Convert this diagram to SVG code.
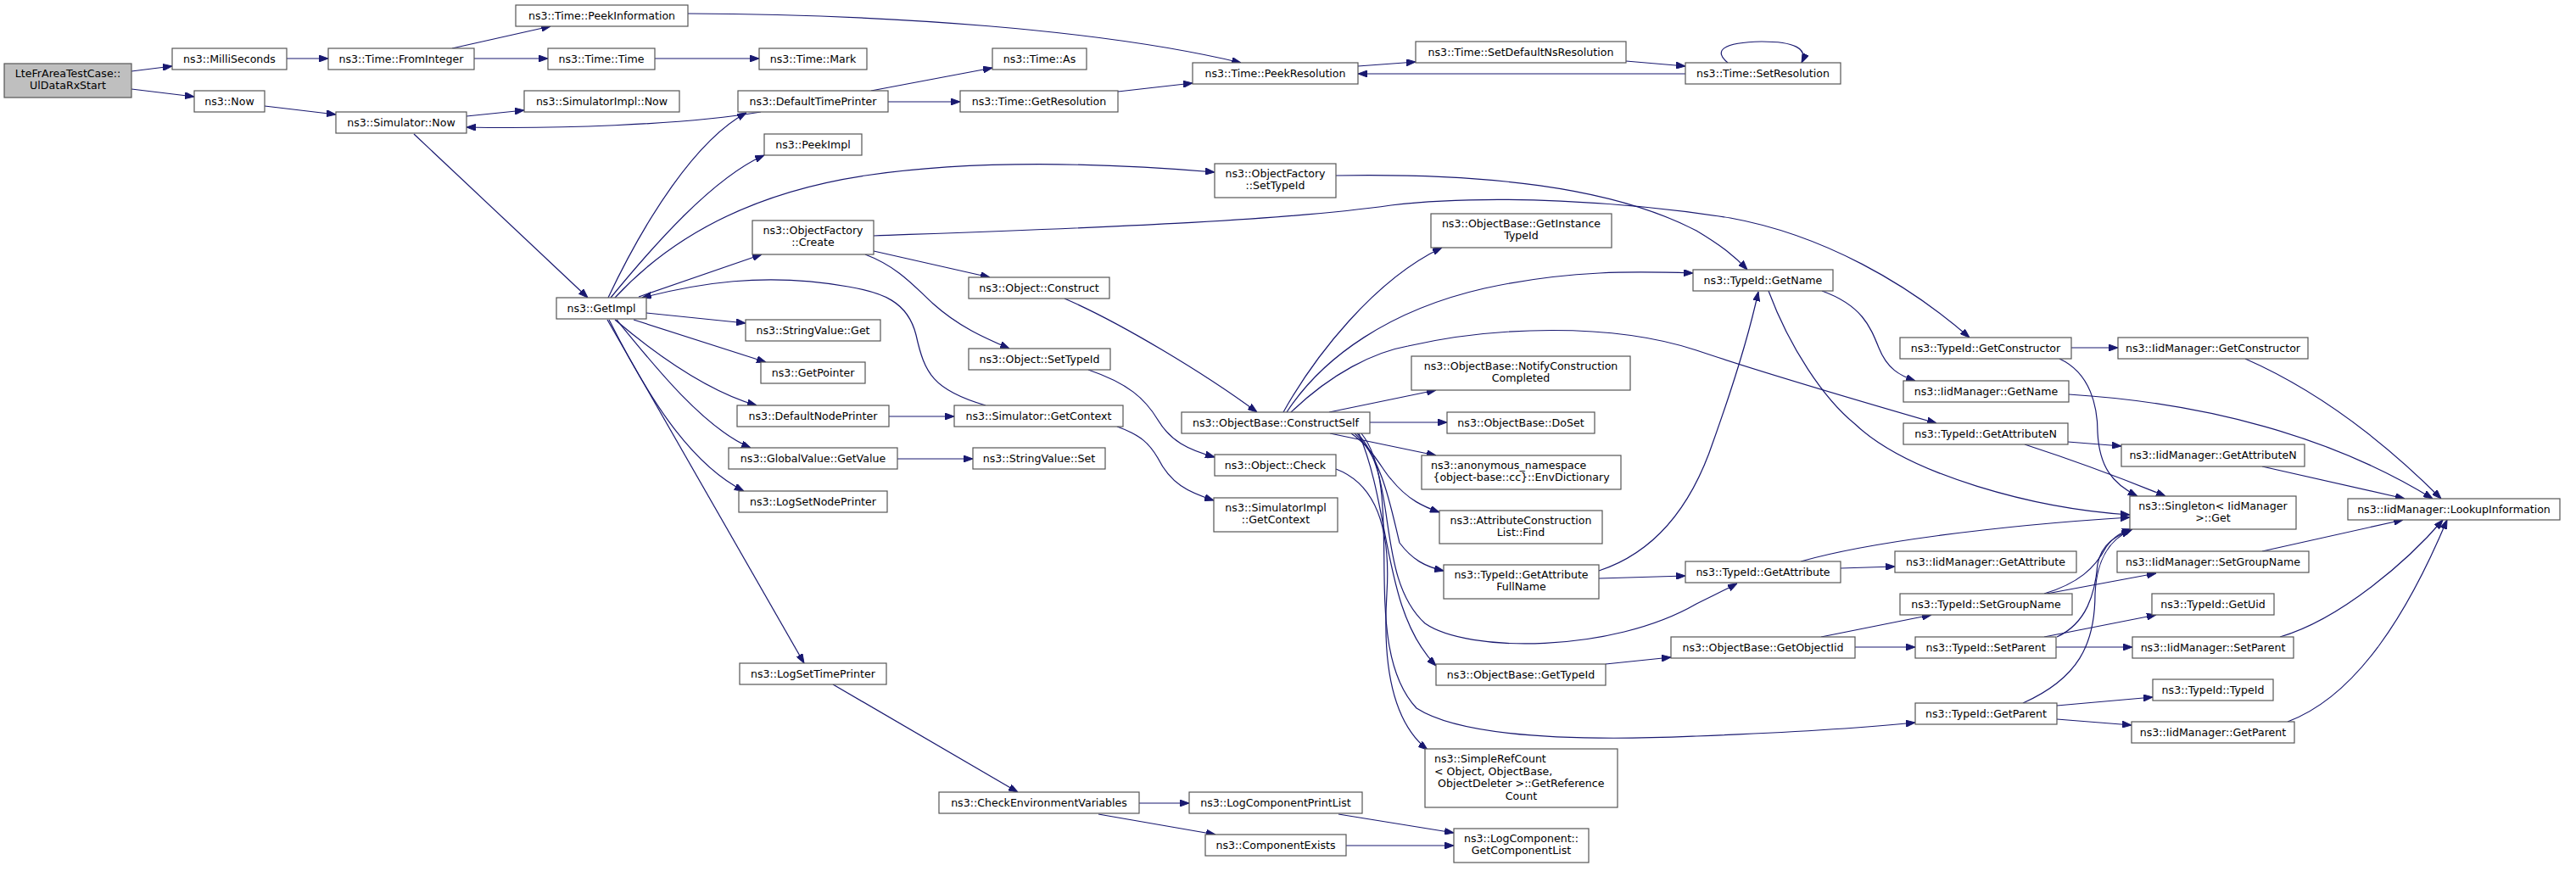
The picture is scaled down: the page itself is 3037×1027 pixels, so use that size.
<svg xmlns="http://www.w3.org/2000/svg" width="3037" height="1027" viewBox="0 0 3037 1027">
<defs>
<style>
.node rect{fill:#ffffff;stroke:#555555;stroke-width:1.2}
.node.root rect{fill:#bfbfbf}
.node text{font-family:"DejaVu Sans","Liberation Sans",sans-serif;font-size:12.6px;fill:#000000;text-anchor:middle}
.node text.l{text-anchor:start}
.edges path{fill:none;stroke:#191970;stroke-width:1.2;marker-end:url(#ah)}
</style>
<marker id="ah" markerWidth="11" markerHeight="8" refX="11" refY="4" orient="auto" markerUnits="userSpaceOnUse">
<path d="M0,0 L11,4 L0,8 z" fill="#191970" stroke="#191970" stroke-width="1"/>
</marker>
</defs>
<rect width="3037" height="1027" fill="#ffffff"/>
<g class="edges" id="edges">
<path d="M155,84 L203,78"/>
<path d="M155,105 L229,114"/>
<path d="M338,69 L387,69"/>
<path d="M533,57 L649,31"/>
<path d="M559,69 L646,69"/>
<path d="M772,69 L895,69"/>
<path d="M811,16 C1050,17 1300,35 1463,74"/>
<path d="M312,125 L396,135"/>
<path d="M550,137 L618,130"/>
<path d="M897,132 C800,148 650,152 550,150"/>
<path d="M488,158 L693,351"/>
<path d="M717,351 C760,260 820,165 880,133"/>
<path d="M720,351 C770,290 840,210 901,183"/>
<path d="M725,351 C800,270 900,225 1020,207 C1150,188 1300,192 1432,203"/>
<path d="M753,350 L898,300"/>
<path d="M1162,478 C1100,460 1090,440 1080,395 C1070,355 1040,345 1000,338 C900,320 820,335 757,351"/>
<path d="M762,369 L879,381"/>
<path d="M747,377 L903,427"/>
<path d="M725,377 C770,415 830,460 892,478"/>
<path d="M727,377 C770,430 830,505 885,528"/>
<path d="M718,377 C760,460 810,545 877,579"/>
<path d="M716,377 L948,782"/>
<path d="M1048,491 L1125,491"/>
<path d="M1058,541 L1147,541"/>
<path d="M982,807 L1200,934"/>
<path d="M1343,947 L1402,947"/>
<path d="M1295,960 L1433,984"/>
<path d="M1578,960 L1714,982"/>
<path d="M1587,997 L1714,997"/>
<path d="M1030,278 C1250,270 1500,262 1640,242 C1760,228 1920,238 2040,257 C2150,277 2250,335 2322,398"/>
<path d="M1030,296 L1167,327"/>
<path d="M1020,300 C1060,315 1080,340 1100,358 C1130,385 1160,398 1190,411"/>
<path d="M1255,352 C1320,380 1420,440 1482,486"/>
<path d="M1283,436 C1330,452 1350,470 1365,495 C1380,520 1400,530 1432,539"/>
<path d="M1317,503 C1345,513 1355,523 1365,540 C1380,570 1400,580 1431,590"/>
<path d="M1575,207 C1750,204 1900,220 2000,272 C2030,290 2045,302 2060,318"/>
<path d="M1513,486 C1550,420 1620,330 1700,292"/>
<path d="M1517,486 C1560,420 1640,365 1750,340 C1850,318 1930,320 1996,322"/>
<path d="M1522,486 C1570,440 1620,415 1660,408 C1760,385 1900,380 2000,413 C2080,440 2200,475 2283,499"/>
<path d="M1567,486 L1693,460"/>
<path d="M1615,498 L1706,498"/>
<path d="M1568,511 L1693,537"/>
<path d="M1593,511 C1620,530 1630,555 1640,565 C1660,590 1680,598 1697,604"/>
<path d="M1597,511 C1630,540 1640,600 1650,640 C1665,660 1680,668 1702,673"/>
<path d="M1600,511 C1650,560 1620,680 1680,735 C1730,770 1900,770 2000,712 C2020,702 2035,695 2048,688"/>
<path d="M1602,511 C1640,600 1630,720 1693,785"/>
<path d="M1605,511 C1660,580 1600,760 1670,835 C1740,880 1950,870 2000,868 C2100,864 2200,858 2258,852"/>
<path d="M1575,553 C1620,570 1640,620 1635,700 C1630,780 1640,850 1683,884"/>
<path d="M1885,673 C1940,655 1990,610 2020,520 C2045,450 2063,390 2073,344"/>
<path d="M1885,682 L1987,679"/>
<path d="M2148,343 C2195,360 2205,385 2215,410 C2225,435 2240,443 2258,449"/>
<path d="M2085,343 C2110,410 2150,470 2187,500 C2250,560 2400,600 2511,607"/>
<path d="M2442,410 L2497,410"/>
<path d="M2428,423 C2465,440 2473,480 2473,510 C2475,550 2490,570 2520,585"/>
<path d="M2647,423 C2720,455 2800,510 2878,588"/>
<path d="M2439,465 C2600,475 2750,515 2868,588"/>
<path d="M2438,521 L2501,526"/>
<path d="M2387,524 C2430,538 2480,555 2553,585"/>
<path d="M2667,550 L2835,588"/>
<path d="M2123,662 C2200,640 2350,620 2511,610"/>
<path d="M2170,670 L2234,668"/>
<path d="M2410,700 C2450,688 2470,670 2483,645 C2493,632 2500,628 2513,624"/>
<path d="M2413,700 L2542,676"/>
<path d="M2147,751 L2277,725"/>
<path d="M2187,763 L2258,763"/>
<path d="M2425,751 C2460,735 2470,700 2473,665 C2478,640 2495,632 2514,624"/>
<path d="M2410,751 L2542,725"/>
<path d="M2424,763 L2514,763"/>
<path d="M2688,751 C2760,730 2840,660 2880,613"/>
<path d="M2667,650 L2833,613"/>
<path d="M2385,829 C2450,800 2470,760 2470,700 C2472,655 2490,635 2512,625"/>
<path d="M2425,832 L2538,822"/>
<path d="M2425,848 L2513,855"/>
<path d="M2697,851 C2780,820 2840,720 2885,613"/>
<path d="M1893,783 L1970,775"/>
<path d="M1318,108 L1406,98"/>
<path d="M1027,107 L1170,80"/>
<path d="M1047,120 L1132,120"/>
<path d="M1601,78 L1669,73"/>
<path d="M1917,72 L1987,78"/>
<path d="M1987,87 L1601,87"/>
<path d="M2037,74 C2020,60 2030,50 2077,49 C2115,49 2132,57 2124,74"/>
</g>
<g id="n_root" class="node root"><rect x="5" y="75" width="150" height="40"/><text x="80" y="91">LteFrAreaTestCase::</text><text x="80" y="105">UlDataRxStart</text></g>
<g id="n_millis" class="node"><rect x="203" y="57" width="135" height="25"/><text x="270.5" y="74">ns3::MilliSeconds</text></g>
<g id="n_now" class="node"><rect x="229" y="107" width="83" height="25"/><text x="270.5" y="124">ns3::Now</text></g>
<g id="n_frominteger" class="node"><rect x="387" y="57" width="172" height="25"/><text x="473" y="74">ns3::Time::FromInteger</text></g>
<g id="n_simnow" class="node"><rect x="396" y="132" width="154" height="25"/><text x="473" y="149">ns3::Simulator::Now</text></g>
<g id="n_peekinfo" class="node"><rect x="608" y="6" width="203" height="25"/><text x="709.5" y="23">ns3::Time::PeekInformation</text></g>
<g id="n_timetime" class="node"><rect x="646" y="57" width="126" height="25"/><text x="709" y="74">ns3::Time::Time</text></g>
<g id="n_mark" class="node"><rect x="895" y="57" width="127" height="25"/><text x="958.5" y="74">ns3::Time::Mark</text></g>
<g id="n_simimplnow" class="node"><rect x="618" y="107" width="183" height="25"/><text x="709.5" y="124">ns3::SimulatorImpl::Now</text></g>
<g id="n_deftimeprinter" class="node"><rect x="870" y="107" width="177" height="25"/><text x="958.5" y="124">ns3::DefaultTimePrinter</text></g>
<g id="n_peekimpl" class="node"><rect x="901" y="158" width="115" height="25"/><text x="958.5" y="175">ns3::PeekImpl</text></g>
<g id="n_ofcreate" class="node"><rect x="887" y="260" width="143" height="40"/><text x="958.5" y="276">ns3::ObjectFactory</text><text x="958.5" y="290">::Create</text></g>
<g id="n_getimpl" class="node"><rect x="656" y="351" width="106" height="25"/><text x="709" y="368">ns3::GetImpl</text></g>
<g id="n_svget" class="node"><rect x="879" y="377" width="159" height="25"/><text x="958.5" y="394">ns3::StringValue::Get</text></g>
<g id="n_getpointer" class="node"><rect x="897" y="427" width="123" height="25"/><text x="958.5" y="444">ns3::GetPointer</text></g>
<g id="n_defnodeprinter" class="node"><rect x="869" y="478" width="179" height="25"/><text x="958.5" y="495">ns3::DefaultNodePrinter</text></g>
<g id="n_gvgetvalue" class="node"><rect x="859" y="528" width="199" height="25"/><text x="958.5" y="545">ns3::GlobalValue::GetValue</text></g>
<g id="n_logsetnode" class="node"><rect x="871" y="579" width="175" height="25"/><text x="958.5" y="596">ns3::LogSetNodePrinter</text></g>
<g id="n_logsettime" class="node"><rect x="872" y="782" width="173" height="25"/><text x="958.5" y="799">ns3::LogSetTimePrinter</text></g>
<g id="n_svset" class="node"><rect x="1147" y="528" width="156" height="25"/><text x="1225" y="545">ns3::StringValue::Set</text></g>
<g id="n_checkenv" class="node"><rect x="1107" y="934" width="236" height="25"/><text x="1225" y="951">ns3::CheckEnvironmentVariables</text></g>
<g id="n_logcompprint" class="node"><rect x="1402" y="934" width="204" height="25"/><text x="1504" y="951">ns3::LogComponentPrintList</text></g>
<g id="n_compexists" class="node"><rect x="1421" y="984" width="166" height="25"/><text x="1504" y="1001">ns3::ComponentExists</text></g>
<g id="n_objcheck" class="node"><rect x="1432" y="536" width="143" height="25"/><text x="1503.5" y="553">ns3::Object::Check</text></g>
<g id="n_simimplctx" class="node"><rect x="1431" y="587" width="146" height="40"/><text x="1504" y="603">ns3::SimulatorImpl</text><text x="1504" y="617">::GetContext</text></g>
<g id="n_timeas" class="node"><rect x="1170" y="57" width="111" height="25"/><text x="1225.5" y="74">ns3::Time::As</text></g>
<g id="n_getres" class="node"><rect x="1132" y="107" width="186" height="25"/><text x="1225" y="124">ns3::Time::GetResolution</text></g>
<g id="n_peekres" class="node"><rect x="1406" y="74" width="195" height="25"/><text x="1503.5" y="91">ns3::Time::PeekResolution</text></g>
<g id="n_ofsettypeid" class="node"><rect x="1432" y="193" width="143" height="40"/><text x="1503.5" y="209">ns3::ObjectFactory</text><text x="1503.5" y="223">::SetTypeId</text></g>
<g id="n_objconstruct" class="node"><rect x="1142" y="327" width="166" height="25"/><text x="1225" y="344">ns3::Object::Construct</text></g>
<g id="n_objsettypeid" class="node"><rect x="1142" y="411" width="167" height="25"/><text x="1225.5" y="428">ns3::Object::SetTypeId</text></g>
<g id="n_simgetctx" class="node"><rect x="1125" y="478" width="199" height="25"/><text x="1224.5" y="495">ns3::Simulator::GetContext</text></g>
<g id="n_constructself" class="node"><rect x="1393" y="486" width="222" height="25"/><text x="1504" y="503">ns3::ObjectBase::ConstructSelf</text></g>
<g id="n_setdefns" class="node"><rect x="1669" y="49" width="248" height="25"/><text x="1793" y="66">ns3::Time::SetDefaultNsResolution</text></g>
<g id="n_setres" class="node"><rect x="1987" y="74" width="183" height="25"/><text x="2078.5" y="91">ns3::Time::SetResolution</text></g>
<g id="n_getinsttid" class="node"><rect x="1687" y="252" width="213" height="40"/><text x="1793.5" y="268">ns3::ObjectBase::GetInstance</text><text x="1793.5" y="282">TypeId</text></g>
<g id="n_tidgetname" class="node"><rect x="1996" y="318" width="165" height="25"/><text x="2078.5" y="335">ns3::TypeId::GetName</text></g>
<g id="n_notify" class="node"><rect x="1664" y="420" width="258" height="40"/><text x="1793" y="436">ns3::ObjectBase::NotifyConstruction</text><text x="1793" y="450">Completed</text></g>
<g id="n_doset" class="node"><rect x="1706" y="486" width="174" height="25"/><text x="1793" y="503">ns3::ObjectBase::DoSet</text></g>
<g id="n_envdict" class="node"><rect x="1676" y="537" width="235" height="40"/><text class="l" x="1687" y="553">ns3::anonymous_namespace</text><text x="1793.5" y="567">{object-base::cc}::EnvDictionary</text></g>
<g id="n_acfind" class="node"><rect x="1697" y="602" width="192" height="39"/><text x="1793" y="618">ns3::AttributeConstruction</text><text x="1793" y="632">List::Find</text></g>
<g id="n_getattrfull" class="node"><rect x="1702" y="666" width="183" height="40"/><text x="1793.5" y="682">ns3::TypeId::GetAttribute</text><text x="1793.5" y="696">FullName</text></g>
<g id="n_obgettypeid" class="node"><rect x="1693" y="783" width="200" height="25"/><text x="1793" y="800">ns3::ObjectBase::GetTypeId</text></g>
<g id="n_simplerefcount" class="node"><rect x="1680" y="883" width="227" height="69"/><text class="l" x="1691" y="899">ns3::SimpleRefCount</text><text class="l" x="1691" y="914">&lt; Object, ObjectBase,</text><text class="l" x="1695" y="928">ObjectDeleter &gt;::GetReference</text><text x="1793.5" y="943">Count</text></g>
<g id="n_getcomplist" class="node"><rect x="1714" y="977" width="159" height="40"/><text x="1793.5" y="993">ns3::LogComponent::</text><text x="1793.5" y="1007">GetComponentList</text></g>
<g id="n_tidgetctor" class="node"><rect x="2240" y="398" width="202" height="25"/><text x="2341" y="415">ns3::TypeId::GetConstructor</text></g>
<g id="n_iidgetname" class="node"><rect x="2244" y="449" width="195" height="25"/><text x="2341.5" y="466">ns3::IidManager::GetName</text></g>
<g id="n_tidgetattrn" class="node"><rect x="2244" y="499" width="194" height="25"/><text x="2341" y="516">ns3::TypeId::GetAttributeN</text></g>
<g id="n_iidgetctor" class="node"><rect x="2497" y="398" width="224" height="25"/><text x="2609" y="415">ns3::IidManager::GetConstructor</text></g>
<g id="n_iidgetattrn" class="node"><rect x="2501" y="524" width="216" height="26"/><text x="2609" y="541">ns3::IidManager::GetAttributeN</text></g>
<g id="n_singleton" class="node"><rect x="2511" y="585" width="196" height="39"/><text x="2609" y="601">ns3::Singleton&lt; IidManager</text><text x="2609" y="615">&gt;::Get</text></g>
<g id="n_lookup" class="node"><rect x="2768" y="588" width="250" height="25"/><text x="2893" y="605">ns3::IidManager::LookupInformation</text></g>
<g id="n_iidsetgroup" class="node"><rect x="2496" y="650" width="226" height="25"/><text x="2609" y="667">ns3::IidManager::SetGroupName</text></g>
<g id="n_tidgetuid" class="node"><rect x="2537" y="700" width="144" height="25"/><text x="2609" y="717">ns3::TypeId::GetUid</text></g>
<g id="n_iidsetparent" class="node"><rect x="2514" y="751" width="190" height="25"/><text x="2609" y="768">ns3::IidManager::SetParent</text></g>
<g id="n_tidtypeid" class="node"><rect x="2538" y="801" width="142" height="25"/><text x="2609" y="818">ns3::TypeId::TypeId</text></g>
<g id="n_iidgetparent" class="node"><rect x="2513" y="851" width="192" height="25"/><text x="2609" y="868">ns3::IidManager::GetParent</text></g>
<g id="n_tidgetattr" class="node"><rect x="1987" y="662" width="183" height="25"/><text x="2078.5" y="679">ns3::TypeId::GetAttribute</text></g>
<g id="n_iidgetattr" class="node"><rect x="2234" y="650" width="214" height="25"/><text x="2341" y="667">ns3::IidManager::GetAttribute</text></g>
<g id="n_tidsetgroup" class="node"><rect x="2240" y="700" width="203" height="25"/><text x="2341.5" y="717">ns3::TypeId::SetGroupName</text></g>
<g id="n_getobjiid" class="node"><rect x="1970" y="751" width="217" height="25"/><text x="2078.5" y="768">ns3::ObjectBase::GetObjectIid</text></g>
<g id="n_tidsetparent" class="node"><rect x="2258" y="751" width="166" height="25"/><text x="2341" y="768">ns3::TypeId::SetParent</text></g>
<g id="n_tidgetparent" class="node"><rect x="2258" y="829" width="167" height="25"/><text x="2341.5" y="846">ns3::TypeId::GetParent</text></g>
</svg>
